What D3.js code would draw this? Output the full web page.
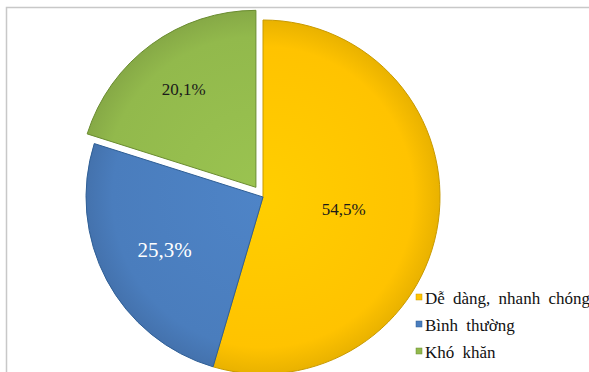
<!DOCTYPE html>
<html>
<head>
<meta charset="utf-8">
<script src="https://cdn.jsdelivr.net/npm/d3@7"></script>
</head>
<body style="margin:0">
<svg id="chart" width="589" height="372" style="display:block"></svg>
<script>
// data
var categories = ["Dễ dàng, nhanh chóng", "Bình thường", "Khó khăn"];
var values = [54.5, 25.3, 20.1];
var valueLabels = ["54,5%", "25,3%", "20,1%"];
var colors = ["#FFC300", "#4A7DBD", "#92B94C"];
var edgeColors = ["#C99A00", "#2F5F96", "#6A8C30"];
var textColors = ["#1a1a1a", "#ffffff", "#1a1a1a"];
var exploded = [0, 0, 12];

var width = 589, height = 372;
var cx = 263, cy = 197, radius = 177;
var labelFrac = [0.46, 0.63, 0.69];
var labelSize = [17, 21, 17];

var svg = d3.select("#chart");

// frame (only top and left edge visible)
svg.append("path")
    .attr("d", "M6.5," + height + "V7.5H" + width)
    .style("fill", "none")
    .style("stroke", "#c8c8c8")
    .style("stroke-width", 1.5);

var defs = svg.append("defs");
colors.forEach(function(c, i) {
    var g = defs.append("radialGradient")
        .attr("id", "grad" + i)
        .attr("gradientUnits", "userSpaceOnUse")
        .attr("cx", 0).attr("cy", 0).attr("r", radius);
    g.append("stop").attr("offset", "0%").attr("stop-color", d3.color(c).brighter(0.15));
    g.append("stop").attr("offset", "85%").attr("stop-color", c);
    g.append("stop").attr("offset", "100%").attr("stop-color", d3.color(c).darker(0.25));
});

var pie = d3.pie().sort(null).value(function(d) { return d; });
var arcs = pie(values);
var arc = d3.arc().innerRadius(0).outerRadius(radius);

var slices = svg.selectAll(".slice")
    .data(arcs)
    .enter().append("g")
    .attr("class", "slice")
    .attr("transform", function(d, i) {
        var mid = (d.startAngle + d.endAngle) / 2;
        var ox = Math.sin(mid) * exploded[i];
        var oy = -Math.cos(mid) * exploded[i];
        return "translate(" + (cx + ox) + "," + (cy + oy) + ")";
    });

slices.append("path")
    .attr("d", arc)
    .style("fill", function(d, i) { return "url(#grad" + i + ")"; })
    .style("stroke", function(d, i) { return edgeColors[i]; })
    .style("stroke-width", 1);

slices.append("text")
    .attr("x", function(d, i) {
        var mid = (d.startAngle + d.endAngle) / 2;
        return Math.sin(mid) * radius * labelFrac[i];
    })
    .attr("y", function(d, i) {
        var mid = (d.startAngle + d.endAngle) / 2;
        return -Math.cos(mid) * radius * labelFrac[i];
    })
    .attr("dy", "0.35em")
    .attr("text-anchor", "middle")
    .attr("style", function(d, i) {
        return "font-family:'Liberation Serif';font-size:" + labelSize[i] + "px;fill:" + textColors[i];
    })
    .text(function(d, i) { return valueLabels[i]; });

// legend
var legend = svg.selectAll(".legend")
    .data(categories)
    .enter().append("g")
    .attr("class", "legend")
    .attr("transform", function(d, i) { return "translate(416," + (304 + i * 27) + ")"; });

legend.append("rect")
    .attr("x", 0)
    .attr("y", -10)
    .attr("width", 6)
    .attr("height", 6)
    .style("fill", function(d, i) { return colors[i]; })
    .style("stroke", function(d, i) { return edgeColors[i]; })
    .style("stroke-width", 0.5);

legend.append("text")
    .attr("x", 9)
    .attr("y", 0)
    .attr("style", "font-family:'Liberation Serif';font-size:17px;fill:#111;word-spacing:4px")
    .text(function(d) { return d; });
</script>
</body>
</html>
